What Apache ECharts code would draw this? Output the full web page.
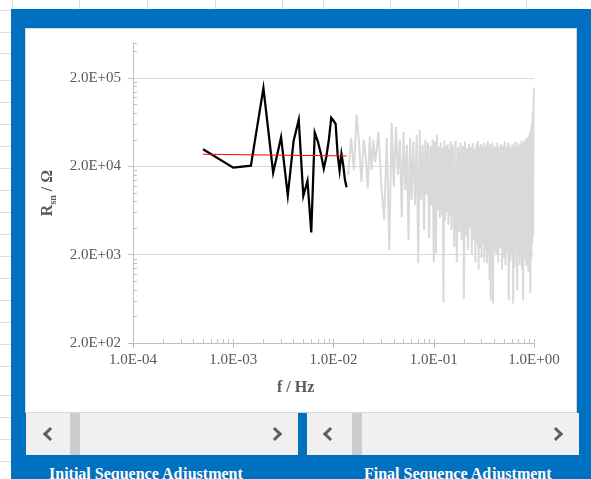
<!DOCTYPE html>
<html>
<head>
<meta charset="utf-8">
<title>Rsn spectrum</title>
<script src="https://cdn.jsdelivr.net/npm/echarts@6/dist/echarts.min.js"></script>
<style>
  html, body { margin: 0; padding: 0; width: 591px; height: 479px; overflow: hidden; background: #ffffff; }
  .col { position: absolute; top: 0; width: 1px; height: 10px; background: #dcdcdc; }
  .row { position: absolute; left: 0; width: 12px; height: 1px; background: #dcdcdc; }
  #frame { position: absolute; left: 11px; top: 9px; width: 580px; height: 470px; background: #0070c0; }
  #panel { position: absolute; left: 25px; top: 28px; width: 552px; height: 385px; background: #ffffff;
           border: 1px solid #d6d6d6; box-sizing: border-box; }
  .sb { position: absolute; top: 413px; height: 42px; background: #f0f0f0; }
  .thumb { position: absolute; top: 0; width: 10px; height: 42px; background: #cdcdcd; }
  .arr { position: absolute; top: 16px; width: 7px; height: 7px; border-left: 3px solid #5e5e5e; border-bottom: 3px solid #5e5e5e; }
  .arr.l { transform: rotate(45deg); }
  .arr.r { transform: rotate(-135deg); }
  .cap { position: absolute; top: 465px; font: bold 16px "Liberation Serif", serif; color: #ffffff; white-space: nowrap; }
  #chart { position: absolute; left: 0; top: 0; width: 591px; height: 479px; }
</style>
</head>
<body>
<div class="col" style="left:12px"></div>
<div class="col" style="left:79px"></div>
<div class="col" style="left:147px"></div>
<div class="col" style="left:215px"></div>
<div class="col" style="left:282px"></div>
<div class="col" style="left:323px"></div>
<div class="col" style="left:390px"></div>
<div class="col" style="left:458px"></div>
<div class="col" style="left:526px"></div>
<div class="row" style="top:10px"></div>
<div class="row" style="top:32px"></div>
<div class="row" style="top:53px"></div>
<div class="row" style="top:80px"></div>
<div class="row" style="top:102px"></div>
<div class="row" style="top:124px"></div>
<div class="row" style="top:146px"></div>
<div class="row" style="top:168px"></div>
<div class="row" style="top:190px"></div>
<div class="row" style="top:212px"></div>
<div class="row" style="top:234px"></div>
<div class="row" style="top:256px"></div>
<div class="row" style="top:278px"></div>
<div class="row" style="top:300px"></div>
<div class="row" style="top:322px"></div>
<div class="row" style="top:344px"></div>
<div class="row" style="top:366px"></div>
<div class="row" style="top:395px"></div>
<div class="row" style="top:417px"></div>
<div class="row" style="top:439px"></div>
<div class="row" style="top:461px"></div>

<div id="frame"></div>
<div id="panel"></div>

<div class="sb" style="left:26px;width:272px">
  <div class="arr l" style="left:19px"></div>
  <div class="thumb" style="left:44px"></div>
  <div class="arr r" style="left:244px"></div>
</div>
<div class="sb" style="left:307px;width:272px">
  <div class="arr l" style="left:18px"></div>
  <div class="thumb" style="left:45px"></div>
  <div class="arr r" style="left:244px"></div>
</div>
<div class="cap" style="left:49px">Initial Sequence Adjustment</div>
<div class="cap" style="left:364px">Final Sequence Adjustment</div>

<div id="chart"></div>

<script>
// Initial sequence: frequency (Hz) and resistance (Ohm)
const blackFreq = [0.0005, 0.001, 0.0015, 0.002, 0.0025, 0.003, 0.0035, 0.004, 0.0045, 0.005,
                   0.0055, 0.006, 0.0065, 0.007, 0.0075, 0.008, 0.0085, 0.009, 0.0095, 0.010,
                   0.0105, 0.011, 0.0115, 0.012, 0.0125, 0.013, 0.0135];
const blackR = [31300, 19400, 20400, 154500, 17000, 42900, 9420, 38900, 67400, 9250,
                13700, 3580, 48400, 38000, 27500, 18900, 26100, 40700, 71100, 65800,
                60800, 27000, 17900, 27700, 20800, 14100, 11600];

// Fitted level over the initial sequence
const redFreq = [0.0005, 0.0135];
const redR = [27500, 26300];

// Final sequence: frequency (Hz) and resistance (Ohm)
const grayFreq = [
  0.014, 0.015, 0.016, 0.017, 0.018, 0.019, 0.020, 0.021, 0.022, 0.023, 0.024, 0.025, 0.026, 0.027, 0.028, 0.029, 0.030,
  0.032, 0.034, 0.036, 0.038, 0.040, 0.042, 0.044, 0.046, 0.048, 0.050, 0.052, 0.054, 0.056, 0.058, 0.060,
  0.0625, 0.065, 0.0675, 0.070, 0.0725, 0.075, 0.0775, 0.080, 0.0825, 0.085, 0.0875, 0.090, 0.0925, 0.095, 0.0975, 0.100,
  0.1025, 0.105, 0.1075, 0.110, 0.1125, 0.115, 0.1175, 0.120, 0.1225, 0.125, 0.1275, 0.130, 0.1325, 0.135, 0.1375, 0.140,
  0.1425, 0.145, 0.1475, 0.150,
  0.155, 0.160, 0.165, 0.170, 0.175, 0.180, 0.185, 0.190, 0.195, 0.200, 0.205, 0.210, 0.215, 0.220, 0.225, 0.230, 0.235,
  0.240, 0.245, 0.250, 0.255, 0.260, 0.265, 0.270, 0.275, 0.280, 0.285, 0.290, 0.295, 0.300, 0.305, 0.310, 0.315, 0.320,
  0.325, 0.330, 0.335, 0.340, 0.345, 0.350, 0.355, 0.360, 0.365, 0.370, 0.375, 0.380, 0.385, 0.390, 0.395, 0.400,
  0.41, 0.42, 0.43, 0.44, 0.45, 0.46, 0.47, 0.48, 0.49, 0.50, 0.51, 0.52, 0.53, 0.54, 0.55, 0.56, 0.57, 0.58, 0.59, 0.60,
  0.61, 0.62, 0.63, 0.64, 0.65, 0.66, 0.67, 0.68, 0.69, 0.70, 0.71, 0.72, 0.73, 0.74, 0.75, 0.76, 0.77, 0.78, 0.79, 0.80,
  0.81, 0.82, 0.83, 0.84, 0.85, 0.86, 0.87, 0.88, 0.89, 0.90, 0.91, 0.92, 0.93, 0.94, 0.95, 0.96, 0.97, 0.98, 0.99, 1.00
];
const grayR = [
  16000, 42000, 18200, 76900, 37000, 13300, 40000, 25500, 11300, 43800, 18200, 40000, 22400, 30800, 49000, 27000, 12300,
  4940, 42200, 2250, 63000, 11700, 56000, 16000, 40000, 5300, 49000, 10800, 35100, 2930, 42200, 8340,
  38600, 7310, 45600, 1600, 51900, 8340, 35100, 3800, 40000, 9490, 37000, 3070, 34000, 7310, 40000, 1640,
  38600, 2080, 45600, 6410, 33500, 5200, 37000, 5640, 32400, 580, 39000, 4940, 34000, 6100, 36000, 4340,
  31600, 5640, 38600, 3800,
  35100, 2450, 39000, 1640, 33500, 3620, 37000, 2930, 34000, 630, 38600, 3200, 32400, 2250, 36000, 4100, 33500,
  1980, 37000, 2930, 31600, 1640, 35100, 2570, 38600, 1340, 33500, 2380, 36000, 1830, 34000, 2700, 37000, 1640,
  32400, 2250, 35100, 1600, 38600, 1980, 33500, 1030, 36000, 610, 34000, 1520, 37000, 560, 32400, 2130,
  34000, 1980, 37000, 1640, 33500, 2380, 36000, 1340, 34000, 1830, 38600, 1520, 33500, 2130, 37000, 610, 35100, 1640, 32400, 1980,
  36000, 560, 34000, 1420, 38600, 2250, 33500, 793, 37000, 1830, 34000, 1520, 36000, 2130, 39000, 1340, 35100, 610, 37000, 1740,
  39000, 1980, 40000, 1490, 42200, 2250, 41100, 1280, 44500, 1980, 49000, 730, 53200, 1740, 63000, 2570, 81700, 3340, 113800, 155600
];

// Decade labels on both log axes
const xTickLabels = ['1.0E-04', '1.0E-03', '1.0E-02', '1.0E-01', '1.0E+00'];
const yTickLabels = ['2.0E+02', '2.0E+03', '2.0E+04', '2.0E+05'];

// Both axes are logarithmic; values are plotted as decades.
const X_MIN_EXP = -4, X_MAX_EXP = 0;   // 1e-4 .. 1 Hz
const Y_BASE = 200, Y_TOP = 500000;    // 200 .. 5e5 Ohm
const lx = f => Math.log10(f);
const ly = r => Math.log10(r / Y_BASE);
const pairs = (fs, rs) => fs.map((f, i) => [lx(f), ly(rs[i])]);

const xMajor = xTickLabels.map((_, i) => X_MIN_EXP + i);
const yMajor = yTickLabels.map((_, i) => i);
const xMinor = [];
for (let n = X_MIN_EXP; n < X_MAX_EXP; n++) {
  xMinor.push(n);
  for (let k = 2; k <= 9; k++) xMinor.push(n + Math.log10(k));
}
xMinor.push(X_MAX_EXP);
const yMax = ly(Y_TOP);
const yMinor = [];
for (let n = 0; n < yTickLabels.length; n++) {
  for (let k = 2; k <= 9; k++) {
    const v = n + Math.log10(k);
    if (v <= yMax + 1e-9) yMinor.push(v);
  }
}
yMinor.push(yMax);

const serif = '"Liberation Serif", "Times New Roman", serif';
const axisGray = '#bfbfbf';
const textGray = '#595959';

const chart = echarts.init(document.getElementById('chart'), null, { renderer: 'canvas' });
chart.setOption({
  backgroundColor: 'transparent',
  animation: false,
  grid: { left: 133, top: 43, width: 401, height: 300, containLabel: false, outerBoundsMode: 'none' },
  graphic: [
    {
      type: 'text', left: 277, top: 380, z: 10,
      style: { text: 'f / Hz', font: 'bold 16px "Liberation Serif", serif', fill: textGray }
    }
  ],
  xAxis: [
    {
      type: 'value', min: X_MIN_EXP, max: X_MAX_EXP, position: 'bottom',
      axisLine: { show: true, onZero: false, lineStyle: { color: axisGray, width: 1 } },
      axisTick: { show: true, customValues: xMajor, length: 5, lineStyle: { color: axisGray } },
      axisLabel: {
        customValues: xMajor, margin: 10,
        formatter: v => xTickLabels[Math.round(v) - X_MIN_EXP],
        fontFamily: serif, fontSize: 15, color: textGray
      },
      splitLine: { show: false }
    },
    {
      type: 'value', min: X_MIN_EXP, max: X_MAX_EXP, position: 'bottom',
      axisLine: { show: false, onZero: false },
      axisTick: { show: true, inside: true, customValues: xMinor, length: 4, lineStyle: { color: axisGray } },
      axisLabel: { show: false },
      splitLine: { show: false }
    }
  ],
  yAxis: [
    {
      type: 'value', min: 0, max: yMax, position: 'left',
      axisLine: { show: true, onZero: false, lineStyle: { color: axisGray, width: 1 } },
      axisTick: { show: true, customValues: yMajor, length: 5, lineStyle: { color: axisGray } },
      axisLabel: {
        customValues: yMajor, margin: 12,
        formatter: v => yTickLabels[Math.round(v)],
        fontFamily: serif, fontSize: 15, color: textGray
      },
      splitLine: { show: true, lineStyle: { color: '#d9d9d9', width: 1 } },
      name: '{b|R}{s|sn}{b| / Ω}', nameLocation: 'middle', nameRotate: 90, nameGap: 72,
      nameTextStyle: {
        rich: {
          b: { fontFamily: serif, fontWeight: 'bold', fontSize: 16, color: textGray, lineHeight: 22, verticalAlign: 'middle' },
          s: { fontFamily: serif, fontWeight: 'bold', fontSize: 10, color: textGray, lineHeight: 10, verticalAlign: 'bottom' }
        }
      }
    },
    {
      type: 'value', min: 0, max: yMax, position: 'left',
      axisLine: { show: false, onZero: false },
      axisTick: { show: true, inside: true, customValues: yMinor, length: 4, lineStyle: { color: axisGray } },
      axisLabel: { show: false },
      splitLine: { show: false }
    }
  ],
  series: [
    {
      name: 'Final Sequence', type: 'line', data: pairs(grayFreq, grayR),
      showSymbol: false, symbol: 'none', z: 2,
      lineStyle: { color: '#d9d9d9', width: 2 }
    },
    {
      name: 'Initial Sequence', type: 'line', data: pairs(blackFreq, blackR),
      showSymbol: false, symbol: 'none', z: 3,
      lineStyle: { color: '#000000', width: 2.25, join: 'miter' }
    },
    {
      name: 'Fit', type: 'line', data: pairs(redFreq, redR),
      showSymbol: false, symbol: 'none', z: 4,
      lineStyle: { color: '#ff0000', width: 1 }
    }
  ]
});
</script>
</body>
</html>
